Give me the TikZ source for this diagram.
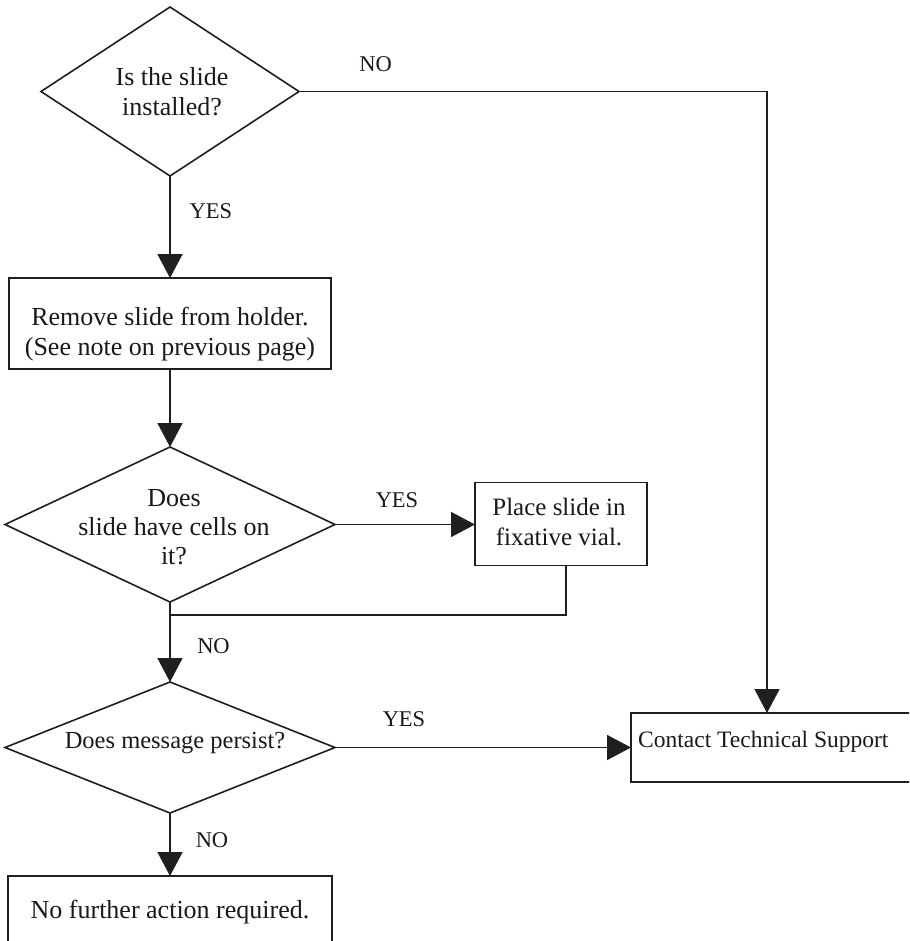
\documentclass[tikz,border=0pt]{standalone}
\usepackage{fontspec}
\setmainfont{Liberation Serif}
\usetikzlibrary{shapes.geometric,arrows.meta}
\begin{document}
\begin{tikzpicture}[x=1pt,y=-1pt,
  ln/.style={draw=black!88, line width=1.6pt},
  arr/.style={ln, -{Triangle[length=24pt,width=25pt]}},
  dia/.style={diamond, draw=black!88, line width=1.6pt, inner sep=0pt, outer sep=0pt},
  box/.style={rectangle, draw=black!88, line width=1.6pt, inner sep=0pt, outer sep=0pt},
  txt/.style={align=center, inner sep=0pt, text=black!90, font=\fontsize{26}{30}\selectfont},
  lbl/.style={inner sep=0pt, text=black!90, font=\fontsize{22.5}{26}\selectfont}
]
\clip (0,0) rectangle (909,941);
\fill[white] (0,0) rectangle (909,941);

% shapes
\node[dia, minimum width=258pt, minimum height=169pt] (d1) at (170,91.5) {};
\node[box, minimum width=322pt, minimum height=91pt] (b2) at (170,323.5) {};
\node[dia, minimum width=330pt, minimum height=155pt] (d2) at (170,524.5) {};
\node[box, minimum width=172pt, minimum height=83pt] (b3) at (561,524) {};
\node[dia, minimum width=330pt, minimum height=131pt] (d3) at (170,747.5) {};
\node[box, minimum width=290pt, minimum height=69pt] (cts) at (776,747.5) {};
\node[box, minimum width=324pt, minimum height=84pt] (b5) at (170,918) {};
\coordinate (j) at (170,615);

% texts
\node[txt] (t1) at (172,91.5) {Is the slide\\installed?};
\node[txt] (t2) at (170,334) {Remove slide from holder.\\(See note on previous page)};
\node[txt, font=\fontsize{26}{29}\selectfont] (t3) at (174,527.5) {Does\\slide have cells on\\it?};
\node[txt, font=\fontsize{25}{30}\selectfont] (t4) at (559,522) {Place slide in\\fixative vial.};
\node[txt, font=\fontsize{24.5}{28}\selectfont] (t5) at (175,743.5) {Does message persist?};
\node[inner sep=0pt, anchor=west, text=black!90, font=\fontsize{23.5}{28}\selectfont] (t6) at (638,741.5) {Contact Technical Support};
\node[txt] (t7) at (170,912.5) {No further action required.};

% labels
\node[lbl] (l1) at (375.5,64) {NO};
\node[lbl] (l2) at (211,211) {YES};
\node[lbl] (l3) at (397,500.5) {YES};
\node[lbl] (l4) at (213.5,646) {NO};
\node[lbl] (l5) at (404,719) {YES};
\node[lbl] (l6) at (212,840.5) {NO};

% connectors
\draw[arr] (d1.east) -| ([xshift=136pt]cts.north west);
\draw[arr] (d1.south) -- (b2.north);
\draw[arr] (b2.south) -- (d2.north);
\draw[arr] (d2.east) -- (d2.east -| b3.west);
\draw[ln] ([xshift=5pt]b3.south) |- (j);
\draw[arr] (d2.south) -- (d3.north);
\draw[arr] (d3.east) -- (d3.east -| cts.west);
\draw[arr] (d3.south) -- (b5.north);
\end{tikzpicture}
\end{document}
